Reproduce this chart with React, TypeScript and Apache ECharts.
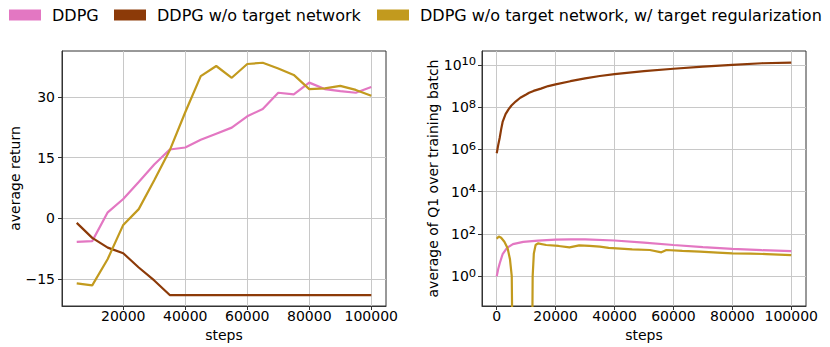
import React, { useEffect, useRef } from 'react';
import * as echarts from 'echarts';

const seriesNames = ['DDPG', 'DDPG w/o target network', 'DDPG w/o target network, w/ target regularization'];
const seriesColors = ['#e377c2', '#8c3a08', '#c29a1e'];

// Left panel: average return vs steps
const returnSteps = [5000, 10000, 15000, 20000, 25000, 30000, 35000, 40000, 45000, 50000, 55000, 60000, 65000, 70000, 75000, 80000, 85000, 90000, 95000, 100000];
const returnDDPG = [-5.8, -5.6, 1.5, 4.8, 9.0, 13.3, 17.0, 17.5, 19.4, 20.9, 22.4, 25.2, 27.0, 31.0, 30.6, 33.5, 31.9, 31.4, 31.0, 32.4];
const returnNoTarget = [-1.1, -4.8, -7.2, -8.6, -12.1, -15.3, -18.9, -18.9, -18.9, -18.9, -18.9, -18.9, -18.9, -18.9, -18.9, -18.9, -18.9, -18.9, -18.9, -18.9];
const returnTargetReg = [-16.0, -16.5, -10.0, -1.6, 2.3, 9.4, 16.8, 26.2, 35.1, 37.6, 34.7, 38.1, 38.4, 37.0, 35.4, 31.9, 32.1, 32.7, 31.7, 30.25];

// Right panel: average of Q1 over training batch (log scale)
const qStepsDDPG = [0, 500, 1000, 2000, 3500, 5500, 9000, 14000, 20000, 25000, 30000, 40000, 50000, 60000, 70000, 80000, 90000, 100000];
const qDDPG = [1.0, 2.2, 4.0, 11, 22, 33, 42, 48, 54, 56, 55, 49, 39, 30, 24, 19.5, 17, 15.5];

const qStepsNoTarget = [0, 500, 1000, 1500, 2000, 3000, 4000, 5000, 6500, 8000, 10000, 11000, 12500, 15000, 17500, 20000, 25000, 30000, 35000, 40000, 50000, 60000, 70000, 80000, 90000, 100000];
const qNoTarget = [6.6e5, 1.6e6, 3.5e6, 8.9e6, 2.0e7, 4.7e7, 7.9e7, 1.2e8, 1.9e8, 2.8e8, 4.0e8, 4.8e8, 5.9e8, 7.6e8, 1.0e9, 1.2e9, 1.7e9, 2.3e9, 3.0e9, 3.7e9, 5.1e9, 6.6e9, 8.3e9, 1.0e10, 1.2e10, 1.3e10];

const qStepsTargetReg = [0, 700, 1500, 2600, 3700, 4500, 5100, 5400, 12000, 12200, 12600, 13200, 14000, 16800, 21000, 24700, 28000, 31500, 35000, 38000, 46000, 52000, 55900, 57600, 63000, 69000, 75000, 80000, 86000, 91600, 100000];
const qTargetReg = [60, 76, 66, 43, 21, 6.3, 1.0, 1e-4, 1e-4, 1.0, 12, 30, 36, 30, 27, 23, 29, 27, 25, 22, 18.6, 17.4, 13.5, 17.4, 15.8, 14.5, 13.2, 12.0, 11.7, 11.2, 10];

// Tick values
const returnTicks = [-15, 0, 15, 30];
const leftStepTicks = [20000, 40000, 60000, 80000, 100000];
const rightStepTicks = [0, 20000, 40000, 60000, 80000, 100000];
const qTickExponents = [0, 2, 4, 6, 8, 10];

const FONT = 'DejaVu Sans';
const SUP = '⁰¹²³⁴⁵⁶⁷⁸⁹';
const toSup = (n: number) => String(n).split('').map((c) => SUP[Number(c)]).join('');

const pairs = (xs: number[], ys: number[], f = (v: number) => v) => xs.map((x, i) => [x, f(ys[i])]);

function axisBase(ticks: number[], formatter: (v: number) => string, margin: number, rich?: any) {
  return {
    axisLine: { show: true, onZero: false, lineStyle: { color: '#333', width: 1 } },
    axisTick: { show: true, inside: false, length: 4, customValues: ticks, lineStyle: { color: '#333', width: 1 } },
    splitLine: { show: true, lineStyle: { color: '#c8c8c8', width: 1 } },
    axisLabel: { customValues: ticks, formatter, color: '#000', fontSize: 14, fontFamily: FONT, margin, ...(rich ? { rich } : {}) },
    nameTextStyle: { color: '#000', fontSize: 14, fontFamily: FONT },
  };
}

const powerRich = {
  b: { fontSize: 14, fontFamily: FONT, color: '#000' },
  s: { fontSize: 18, fontFamily: FONT, color: '#000' },
};

export default function App() {
  const ref = useRef<HTMLDivElement>(null);
  useEffect(() => {
    document.body.style.margin = '0';
    const chart = echarts.init(ref.current!, null, { renderer: 'svg' });
    const legendLefts = [9, 114, 377];
    const leftData = [returnDDPG, returnNoTarget, returnTargetReg];
    const rightData: [number[], number[]][] = [
      [qStepsDDPG, qDDPG],
      [qStepsNoTarget, qNoTarget],
      [qStepsTargetReg, qTargetReg],
    ];
    const series: any[] = [];
    seriesNames.forEach((name, i) => {
      series.push({
        type: 'line', name, xAxisIndex: 0, yAxisIndex: 0,
        data: pairs(returnSteps, leftData[i]),
        showSymbol: false, color: seriesColors[i], clip: true,
        lineStyle: { width: 2.2, color: seriesColors[i] }, itemStyle: { color: seriesColors[i] },
      });
    });
    seriesNames.forEach((name, i) => {
      series.push({
        type: 'line', name, xAxisIndex: 1, yAxisIndex: 1,
        data: pairs(rightData[i][0], rightData[i][1], Math.log10),
        showSymbol: false, color: seriesColors[i], clip: true,
        lineStyle: { width: 2.2, color: seriesColors[i] }, itemStyle: { color: seriesColors[i] },
      });
    });
    chart.setOption({
      animation: false,
      textStyle: { fontFamily: FONT },
      legend: seriesNames.map((n, i) => ({
        data: [n], left: legendLefts[i], top: 7, padding: 0, itemWidth: 32, itemHeight: 11, icon: 'rect',
        selectedMode: false,
        textStyle: { fontSize: 16, color: '#000', fontFamily: FONT, padding: [0, 0, 0, 6] },
      })),
      grid: [
        { left: 62, width: 324, top: 51, height: 255, show: true, borderColor: '#333', borderWidth: 1, containLabel: false, outerBoundsMode: 'none' },
        { left: 482, width: 324, top: 51, height: 255, show: true, borderColor: '#333', borderWidth: 1, containLabel: false, outerBoundsMode: 'none' },
      ],
      xAxis: [
        { type: 'value', gridIndex: 0, min: 250, max: 104750, name: 'steps', nameLocation: 'middle', nameGap: 16,
          ...axisBase(leftStepTicks, (v: number) => String(v), 3) },
        { type: 'value', gridIndex: 1, min: -5000, max: 105000, name: 'steps', nameLocation: 'middle', nameGap: 16,
          ...axisBase(rightStepTicks, (v: number) => String(v), 3) },
      ],
      yAxis: [
        { type: 'value', gridIndex: 0, min: -21.6, max: 41.3, name: 'average return', nameLocation: 'middle', nameGap: 37,
          ...axisBase(returnTicks, (v: number) => (v < 0 ? '\u2212' + Math.abs(v) : String(v)), 7) },
        { type: 'value', gridIndex: 1, min: -1.41, max: 10.66, name: 'average of Q1 over training batch', nameLocation: 'middle', nameGap: 37,
          ...axisBase(qTickExponents, (v: number) => '{b|10}{s|' + toSup(Math.round(v)) + '}', 6, powerRich) },
      ],
      series,
    });
    return () => chart.dispose();
  }, []);
  return <div ref={ref} style={{ width: 830, height: 347 }} />;
}
